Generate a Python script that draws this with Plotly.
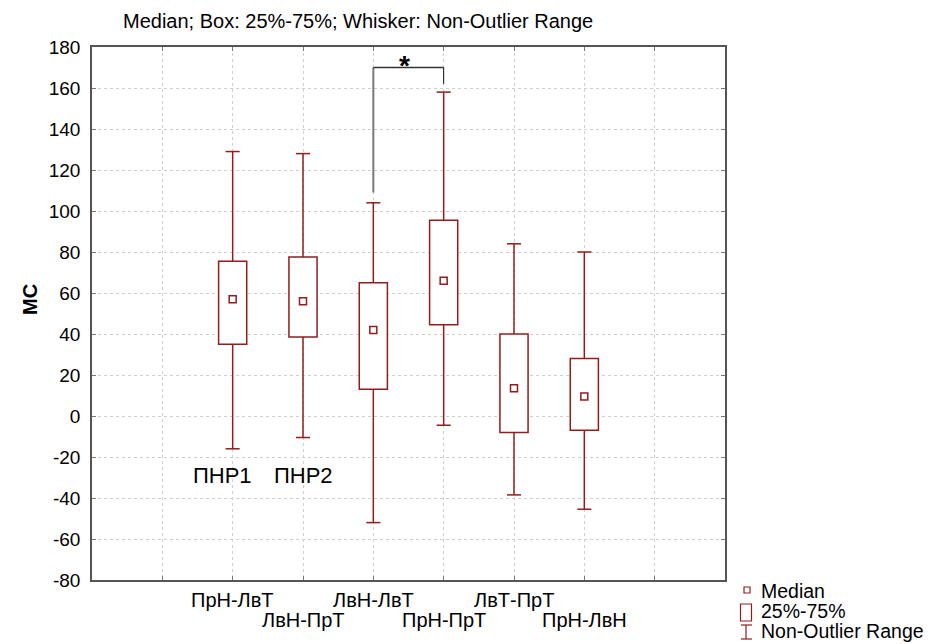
import plotly.graph_objects as go

# ---- data ----
categories = ["ПрН-ЛвТ", "ЛвН-ПрТ", "ЛвН-ЛвТ", "ПрН-ПрТ", "ЛвТ-ПрТ", "ПрН-ЛвН"]
positions = [2, 3, 4, 5, 6, 7]
medians = [57, 56, 42, 66, 13.5, 9.5]
q1 = [35, 38.5, 13, 44.5, -8, -7]
q3 = [75.5, 77.5, 65, 95.5, 40, 28]
lower = [-16, -10.5, -52, -4.5, -38.5, -45.5]
upper = [129, 128, 104, 158, 84, 80]
grid_x = [1, 2, 3, 4, 5, 6, 7, 8]
y_ticks = list(range(-80, 181, 20))
y_ticktext = [str(v) for v in y_ticks]
group_labels = ["ПНР1", "ПНР2"]
group_label_x = [1.85, 3.0]
group_label_y = -29
sig_pair = (4, 5)          # positions joined by the bracket
sig_levels = (109, 170, 162)  # left start, bracket top, right end

RED = "#931c1c"
FONT = "Liberation Sans, Arial, sans-serif"

OFF = 8  # page body margin
PL, PR, PT, PB = 92, 725, 47, 580   # plot area in page pixels
W, H = 934 - OFF, 644 - OFF
L, T = PL - OFF, PT - OFF
R, B = W - (PR - OFF), H - (PB - OFF)
pw, ph = PR - PL, PB - PT

def px_x(px):
    return (px - PL) / pw

def px_y(py):
    return (PB - py) / ph

fig = go.Figure()

# boxes (25%-75%)
fig.add_trace(go.Bar(
    x=positions, y=[b - a for a, b in zip(q1, q3)], base=q1, width=0.4,
    marker=dict(color="white", line=dict(color=RED, width=1.5)),
    showlegend=False, hoverinfo="skip"))

# whiskers
wx, wy = [], []
cap = 0.1
for p, a, b, lo, hi in zip(positions, q1, q3, lower, upper):
    wx += [p, p, None, p, p, None, p - cap, p + cap, None, p - cap, p + cap, None]
    wy += [b, hi, None, a, lo, None, hi, hi, None, lo, lo, None]
fig.add_trace(go.Scatter(x=wx, y=wy, mode="lines",
                         line=dict(color=RED, width=1.5),
                         showlegend=False, hoverinfo="skip"))

# medians
fig.add_trace(go.Scatter(x=positions, y=medians, mode="markers",
                         marker=dict(symbol="square-open", size=7, color=RED,
                                     line=dict(width=1.5, color=RED)),
                         showlegend=False))

shapes = []
annotations = []

# significance bracket
xa, xb = sig_pair
y0, ytop, y1 = sig_levels
shapes.append(dict(type="line", xref="x", yref="y", x0=xa, x1=xa, y0=y0, y1=ytop,
                   line=dict(color="#7a7a7a", width=2)))
shapes.append(dict(type="line", xref="x", yref="y", x0=xa, x1=xb, y0=ytop, y1=ytop,
                   line=dict(color="#333333", width=1.5)))
shapes.append(dict(type="line", xref="x", yref="y", x0=xb, x1=xb, y0=ytop, y1=y1,
                   line=dict(color="#111111", width=1)))
annotations.append(dict(x=(xa + xb) / 2 - 0.05, y=ytop, xref="x", yref="y", text="<b>*</b>",
                        showarrow=False, yanchor="bottom", yshift=-15,
                        font=dict(size=28, color="black", family=FONT)))

# group labels
for t, gx in zip(group_labels, group_label_x):
    annotations.append(dict(x=gx, y=group_label_y, xref="x", yref="y", text=t,
                            showarrow=False, font=dict(size=22, color="black", family=FONT)))

# x category labels in two staggered rows
for i, (p, c) in enumerate(zip(positions, categories)):
    annotations.append(dict(x=p, y=px_y(600 if i % 2 == 0 else 620), xref="x", yref="paper",
                            text=c, showarrow=False, yanchor="middle",
                            font=dict(size=20, color="black", family=FONT)))

# y axis title
annotations.append(dict(x=px_x(17), y=px_y(300), xref="paper", yref="paper", text="<b>MC</b>",
                        textangle=-90, showarrow=False,
                        font=dict(size=20, color="black", family=FONT)))

# manual legend
shapes.append(dict(type="rect", xref="paper", yref="paper",
                   x0=px_x(744), x1=px_x(750), y0=px_y(593), y1=px_y(587),
                   line=dict(color=RED, width=1.2), fillcolor="white"))
shapes.append(dict(type="rect", xref="paper", yref="paper",
                   x0=px_x(740.5), x1=px_x(751.5), y0=px_y(621), y1=px_y(604),
                   line=dict(color=RED, width=1.2), fillcolor="white"))
shapes.append(dict(type="line", xref="paper", yref="paper",
                   x0=px_x(746), x1=px_x(746), y0=px_y(639), y1=px_y(625),
                   line=dict(color=RED, width=1.2)))
for yy in (625, 639):
    shapes.append(dict(type="line", xref="paper", yref="paper",
                       x0=px_x(741), x1=px_x(752), y0=px_y(yy), y1=px_y(yy),
                       line=dict(color=RED, width=1.2)))
for t, yy in (("Median", 591), ("25%-75%", 611), ("Non-Outlier Range", 631)):
    annotations.append(dict(x=px_x(759), y=px_y(yy), xref="paper", yref="paper", text=t,
                            showarrow=False, xanchor="left", yanchor="middle",
                            font=dict(size=19.5, color="black", family=FONT)))

GRID = "#cfcfcf"
fig.update_layout(
    width=W, height=H,
    margin=dict(l=L, r=R, t=T, b=B, autoexpand=False),
    paper_bgcolor="white", plot_bgcolor="white",
    barmode="overlay",
    title=dict(text="Median; Box: 25%-75%; Whisker: Non-Outlier Range",
               x=(123 - OFF) / W, xanchor="left", y=1 - (21 - OFF) / H, yanchor="middle",
               font=dict(size=20, color="black", family=FONT)),
    shapes=shapes, annotations=annotations,
    showlegend=False,
    xaxis=dict(range=[0, 9], tickvals=grid_x, showticklabels=False,
               showgrid=True, gridcolor=GRID, griddash="3px,3px", gridwidth=1,
               zeroline=False, showline=True, linecolor="#555555", linewidth=1.5,
               mirror="ticks", ticks="inside", ticklen=4, tickcolor="#777777"),
    yaxis=dict(range=[-80, 180], tickvals=y_ticks, ticktext=y_ticktext,
               showgrid=True, gridcolor=GRID, griddash="3px,3px", gridwidth=1,
               zeroline=False, showline=True, linecolor="#555555", linewidth=1.5,
               mirror="ticks", ticks="inside", ticklen=4, tickcolor="#777777",
               ticklabelstandoff=6,
               tickfont=dict(size=19, color="black", family=FONT)),
)

fig.write_html("out.html")
